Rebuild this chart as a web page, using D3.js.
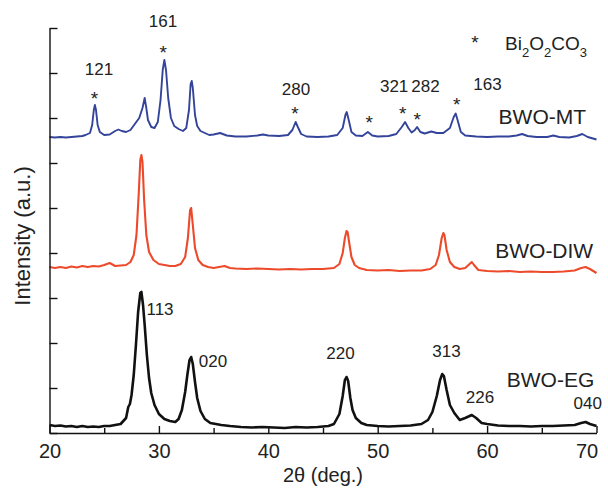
<!DOCTYPE html>
<meta charset="utf-8">
<style>
body { margin: 0; background: #fff; }
svg { font-family: "Liberation Sans", Arial, sans-serif; }
.axis path, .axis line { stroke: #111; stroke-width: 1.4; }
.axis text { font-size: 20px; fill: #222; }
.curve { fill: none; stroke-linejoin: round; }
</style>
<body>
<div id="chart"></div>
<script src="https://d3js.org/d3.v7.min.js"></script>
<script>
// 2theta (deg.), intensity (a.u.)
var eg = [[20,16],[20.5,14],[21,15],[21.5,13],[22,14],[22.5,12],[23,14],[23.5,12],[24,13],[24.5,12],
  [25,14],[25.5,14],[26,16],[26.5,18],[27,30],[27.2,52],[27.35,58],[27.5,76],[27.7,116],[27.9,176],
  [28.1,242],[28.3,280],[28.4,282],[28.55,256],[28.7,216],[28.9,156],[29.1,110],[29.3,80],[29.6,56],
  [30,38],[30.5,28],[31,24],[31.5,22],[31.8,28],[32.1,46],[32.4,82],[32.6,116],[32.8,146],[32.95,152],
  [33.1,138],[33.3,102],[33.5,70],[33.8,44],[34.2,28],[34.7,20],[35.2,18],[35.7,16],[36.5,14],[37.5,12],
  [38.5,11],[39.5,12],[40.5,11],[41.5,10],[42.5,12],[43.5,11],[44.5,12],[45.5,14],[46,18],[46.5,38],
  [46.8,74],[47,106],[47.15,112],[47.3,104],[47.5,70],[47.7,46],[48,30],[48.5,20],[49,16],[50,14],
  [51,13],[52,14],[53,15],[54,18],[54.6,26],[55,42],[55.4,74],[55.7,106],[55.9,118],[56.05,114],
  [56.3,86],[56.6,56],[57,40],[57.5,26],[58,30],[58.6,36],[59,30],[59.5,20],[60,18],[61,15],[62,14],
  [63,14],[64,13],[65,14],[66,14],[67,15],[68,16],[68.6,20],[69,22],[69.4,18],[70,14]];

var diw = [[20,32],[20.5,30],[21,32],[21.5,30],[22,33],[22.5,31],[23,34],[23.5,32],[24,34],[24.5,33],
  [25,36],[25.5,40],[26,34],[26.5,35],[27,36],[27.4,42],[27.7,56],[27.95,96],[28.15,176],[28.3,246],
  [28.4,256],[28.5,242],[28.65,166],[28.85,96],[29.1,62],[29.5,46],[30,38],[30.5,36],[31,34],[31.5,34],
  [32,38],[32.4,52],[32.65,90],[32.85,146],[32.95,150],[33.1,116],[33.3,70],[33.6,46],[34,36],[34.5,32],
  [35,30],[35.5,32],[36,34],[36.5,30],[37,29],[38,28],[39,29],[40,28],[41,27],[42,28],[43,27],[44,28],
  [45,28],[46,30],[46.5,38],[46.8,60],[47,90],[47.15,104],[47.25,102],[47.4,80],[47.6,52],[47.9,36],
  [48.3,30],[49,26],[50,25],[51,26],[52,24],[53,25],[54,25],[54.8,28],[55.3,36],[55.6,56],[55.85,90],
  [56,100],[56.1,96],[56.3,66],[56.6,42],[57,32],[57.5,28],[58,30],[58.4,38],[58.6,42],[58.8,36],
  [59.2,26],[60,24],[61,23],[62,24],[63,22],[64,23],[65,22],[66,22],[67,23],[68,25],[68.6,30],[69,32],
  [69.4,28],[70,20]];

var mt = [[20,12],[20.5,11],[21,12],[21.5,11],[22,12],[22.5,13],[23,14],[23.3,16],[23.7,20],[23.9,36],
  [24.05,66],[24.15,76],[24.25,66],[24.4,36],[24.6,22],[25,16],[25.5,17],[26,24],[26.3,27],[26.6,24],
  [27,22],[27.4,26],[27.8,38],[28.2,50],[28.5,70],[28.7,90],[28.85,70],[29,46],[29.3,32],[29.6,30],
  [29.9,42],[30.15,86],[30.35,146],[30.5,166],[30.65,146],[30.85,90],[31.1,50],[31.4,34],[31.8,28],
  [32.2,24],[32.5,30],[32.75,66],[32.9,118],[33,124],[33.1,110],[33.3,56],[33.5,34],[33.8,24],[34.2,20],
  [34.6,16],[35,17],[35.6,20],[36.2,15],[37,13],[38,13],[39,15],[39.5,17],[40,15],[41,14],[41.8,16],
  [42.2,26],[42.5,42],[42.7,32],[43,18],[43.5,13],[44.5,12],[45.5,13],[46.3,16],[46.8,30],[47.05,56],
  [47.17,62],[47.35,46],[47.6,22],[48,15],[48.6,14],[49.1,22],[49.5,15],[50,13],[51,14],[51.7,18],
  [52.2,32],[52.5,42],[52.8,30],[53.1,21],[53.4,26],[53.6,32],[53.9,22],[54.3,19],[54.9,23],[55.4,20],
  [56,20],[56.6,30],[56.95,52],[57.13,59],[57.3,46],[57.6,22],[58,15],[59,13],[60,12],[61,13],[62,13],
  [62.7,15],[63.2,18],[63.7,14],[64.5,12],[65.5,12],[66.05,15],[66.6,12],[67.5,11],[68.2,14],[68.7,18],
  [69.2,12],[70,7]];

var sampleNames = ["BWO-EG", "BWO-DIW", "BWO-MT"];
var sampleOffsets = [0, 300, 580];
var sampleColors = ["#111111", "#ec4a2a", "#34449a"];

// Bi2O2CO3 reflections marked with * (2theta, level in a.u., MT offset included)
var starAngles = [24.1, 30.4, 42.44, 49.23, 52.29, 53.62, 57.22];
var starLevels = [678, 771, 649, 631, 649, 637, 667];

// hkl labels: text, 2theta, level
var hklText = ["121", "161", "280", "321", "282", "163", "113", "020", "220", "313", "226", "040"];
var hklAngle = [24.53, 30.38, 42.53, 51.5, 54.37, 60.03, 30.1, 34.95, 46.6, 56.29, 59.35, 69.2];
var hklLevel = [716, 812, 676, 682, 682, 686, 236, 132, 148, 152, 60, 48];

var xTicks = [20, 30, 40, 50, 60, 70];
var xMinor = [25, 35, 45, 55, 65];

var width = 608, height = 489;
var svg = d3.select("#chart").append("svg")
    .attr("width", width)
    .attr("height", height);

var x = d3.scaleLinear().domain([20, 70]).range([49.5, 596.5]);
var y = d3.scaleLinear().domain([0, 810]).range([433, 28]);

// curves
var line = d3.line()
    .x(function(d) { return x(d[0]); })
    .y(function(d) { return y(d[1]); });

[eg, diw, mt].forEach(function(data, i) {
  var off = sampleOffsets[i];
  svg.append("path")
      .attr("class", "curve")
      .attr("stroke", sampleColors[i])
      .attr("stroke-width", [2.6, 2.1, 1.9][i])
      .attr("d", line(data.map(function(d) { return [d[0], d[1] + off]; })));
});

// axes
svg.append("g")
    .attr("class", "axis")
    .attr("transform", "translate(0," + y(0) + ")")
    .call(d3.axisBottom(x).tickValues(xTicks).tickSize(-7).tickSizeOuter(0).tickPadding(11).tickFormat(d3.format("d")))
    .call(function(g) { g.selectAll(".tick text").filter(function(d) { return d == 70; }).attr("dx", -10); });

svg.append("g")
    .attr("class", "axis")
    .attr("transform", "translate(0," + y(0) + ")")
    .call(d3.axisBottom(x).tickValues(xMinor).tickSize(-5).tickFormat(""))
    .call(function(g) { g.select(".domain").remove(); });

svg.append("g")
    .attr("class", "axis")
    .attr("transform", "translate(" + x(20) + ",0)")
    .call(d3.axisLeft(y).tickValues(d3.range(0, 811, 90)).tickSize(-8).tickSizeOuter(0).tickFormat(""));

svg.append("text")
    .attr("x", (x(20) + x(70)) / 2)
    .attr("y", 482)
    .attr("text-anchor", "middle")
    .attr("font-size", 20)
    .attr("fill", "#222")
    .text("2θ (deg.)");

svg.append("text")
    .attr("transform", "translate(30,236) rotate(-90)")
    .attr("text-anchor", "middle")
    .attr("font-size", 22)
    .attr("fill", "#222")
    .text("Intensity (a.u.)");

// stars
svg.selectAll(".star")
  .data(starAngles)
  .enter().append("text")
    .attr("class", "star")
    .attr("x", function(d) { return x(d); })
    .attr("y", function(d, i) { return y(starLevels[i]) + 11; })
    .attr("text-anchor", "middle")
    .attr("font-size", 19)
    .attr("fill", "#222")
    .text("*");

// hkl labels
svg.selectAll(".hkl")
  .data(hklText)
  .enter().append("text")
    .attr("class", "hkl")
    .attr("x", function(d, i) { return x(hklAngle[i]); })
    .attr("y", function(d, i) { return y(hklLevel[i]); })
    .attr("text-anchor", "middle")
    .attr("font-size", 17)
    .attr("fill", "#222")
    .text(function(d) { return d; });

// sample names
var nameLevels = [92, 350, 618];
var nameEnds = [69.8, 69.7, 69.05];
svg.selectAll(".name")
  .data(sampleNames)
  .enter().append("text")
    .attr("class", "name")
    .attr("x", function(d, i) { return x(nameEnds[i]); })
    .attr("y", function(d, i) { return y(nameLevels[i]); })
    .attr("text-anchor", "end")
    .attr("font-size", 21)
    .attr("fill", "#222")
    .text(function(d) { return d; });

// legend
svg.append("text")
    .attr("x", 475)
    .attr("y", 38 + 11)
    .attr("text-anchor", "middle")
    .attr("font-size", 19)
    .attr("fill", "#222")
    .text("*");

var legParts = [["Bi", 0], ["2", 1], ["O", 0], ["2", 1], ["CO", 0], ["3", 1]];
var leg = svg.append("text")
    .attr("x", 505)
    .attr("y", 50)
    .attr("font-size", 19)
    .attr("fill", "#222");
legParts.forEach(function(p, i) {
  var prev = i > 0 ? legParts[i - 1][1] : 0;
  leg.append("tspan")
      .attr("font-size", p[1] ? 13 : 19)
      .attr("dy", p[1] ? 7 : (prev ? -7 : 0))
      .text(p[0]);
});
</script>
</body>
